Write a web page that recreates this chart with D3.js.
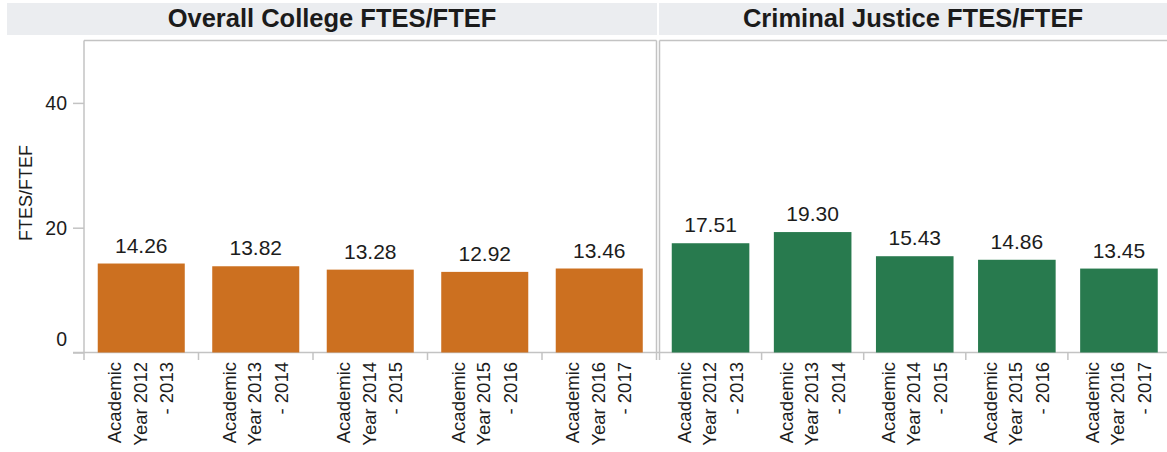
<!DOCTYPE html>
<html>
<head>
<meta charset="utf-8">
<script src="https://cdn.jsdelivr.net/npm/d3@7"></script>
<style>
  html, body { margin: 0; padding: 0; background: #fff; }
  svg { display: block; font-family: "Liberation Sans", Arial, sans-serif; }
</style>
</head>
<body>
<svg id="chart" width="1167" height="452"></svg>
<script>
// ---- data ----
const categories = [
  "Academic Year 2012 - 2013",
  "Academic Year 2013 - 2014",
  "Academic Year 2014 - 2015",
  "Academic Year 2015 - 2016",
  "Academic Year 2016 - 2017"
];
const categoryLines = [
  ["Academic", "Year 2012", "- 2013"],
  ["Academic", "Year 2013", "- 2014"],
  ["Academic", "Year 2014", "- 2015"],
  ["Academic", "Year 2015", "- 2016"],
  ["Academic", "Year 2016", "- 2017"]
];
const overallValues = [14.26, 13.82, 13.28, 12.92, 13.46];
const criminalJusticeValues = [17.51, 19.30, 15.43, 14.86, 13.45];
const panelTitles = ["Overall College FTES/FTEF", "Criminal Justice FTES/FTEF"];
const yTickValues = [0, 20, 40];
const yAxisTitle = "FTES/FTEF";

// ---- layout ----
const svg = d3.select("#chart");
const plotTop = 40.5, plotBottom = 352.5;
const gridColor = "#c3c3c3";
const textColor = "#1c1c1c";

const panels = [
  { title: panelTitles[0], values: overallValues, color: "#cc7020", x0: 84, x1: 656.5, hx0: 7, hx1: 657 },
  { title: panelTitles[1], values: criminalJusticeValues, color: "#287a4e", x0: 659.5, x1: 1170, hx0: 659, hx1: 1167 }
];

const y = d3.scaleLinear().domain([0, 50]).range([plotBottom, plotTop]);
const pad = 0.24;

// headers
panels.forEach(p => {
  svg.append("rect")
    .attr("x", p.hx0).attr("y", 3)
    .attr("width", p.hx1 - p.hx0).attr("height", 32)
    .attr("fill", "#ebedf0");
  svg.append("text")
    .attr("x", (p.hx0 + p.hx1) / 2).attr("y", 27)
    .attr("text-anchor", "middle")
    .attr("font-size", 25.5).attr("font-weight", "bold")
    .attr("fill", "#1b1b1b")
    .text(p.title);
});

// x baseline
svg.append("line")
  .attr("x1", 73).attr("x2", 1167)
  .attr("y1", plotBottom).attr("y2", plotBottom)
  .attr("stroke", gridColor).attr("stroke-width", 1.5);

// y axis (left of first panel)
const yAxis = d3.axisLeft(y).tickValues(yTickValues).tickSize(11).tickPadding(6).tickFormat(d3.format("d"));
const yg = svg.append("g").attr("transform", "translate(84,0)").call(yAxis);
yg.select(".domain").remove();
yg.selectAll(".tick line").attr("stroke", gridColor).attr("stroke-width", 1.5);
yg.selectAll(".tick text")
  .attr("font-size", 19.5).attr("fill", textColor)
  .attr("font-family", "Liberation Sans, Arial, sans-serif")
  .attr("dy", d => d === 0 ? "-0.35em" : "0.35em");

svg.append("text")
  .attr("transform", "translate(32,193) rotate(-90)")
  .attr("text-anchor", "middle")
  .attr("font-size", 18).attr("fill", textColor)
  .text(yAxisTitle);

panels.forEach(p => {
  const x = d3.scaleBand().domain(categories).range([p.x0, p.x1])
    .paddingInner(pad).paddingOuter(pad / 2);
  const step = x.step();
  const g = svg.append("g");

  // panel border: top, left, right
  g.append("line").attr("x1", p.x0).attr("x2", p.x1).attr("y1", plotTop).attr("y2", plotTop)
    .attr("stroke", gridColor).attr("stroke-width", 1.5);
  g.append("line").attr("x1", p.x0).attr("x2", p.x0).attr("y1", plotTop).attr("y2", 360)
    .attr("stroke", gridColor).attr("stroke-width", 1.5);
  if (p.x1 < 1167) {
    g.append("line").attr("x1", p.x1).attr("x2", p.x1).attr("y1", plotTop).attr("y2", 360)
      .attr("stroke", gridColor).attr("stroke-width", 1.5);
  }

  // category separator ticks
  categories.slice(1).forEach(c => {
    const bx = x(c) - step * pad / 2;
    g.append("line").attr("x1", bx).attr("x2", bx).attr("y1", plotBottom).attr("y2", 360)
      .attr("stroke", gridColor).attr("stroke-width", 1.5);
  });

  // bars
  g.selectAll("rect.bar").data(p.values).join("rect")
    .attr("class", "bar")
    .attr("x", (d, i) => x(categories[i]))
    .attr("width", x.bandwidth())
    .attr("y", d => y(d))
    .attr("height", d => y(0) - y(d))
    .attr("fill", p.color);

  // value labels
  g.selectAll("text.val").data(p.values).join("text")
    .attr("class", "val")
    .attr("x", (d, i) => x(categories[i]) + x.bandwidth() / 2)
    .attr("y", d => y(d) - 11)
    .attr("text-anchor", "middle")
    .attr("font-size", 21).attr("fill", textColor)
    .text(d => d.toFixed(2));

  // category labels (rotated, 3 lines)
  const offsets = [-20, 5.5, 32];
  categories.forEach((c, i) => {
    const cx = x(c) + x.bandwidth() / 2;
    categoryLines[i].forEach((line, j) => {
      g.append("text")
        .attr("transform", `translate(${cx + offsets[j]},362) rotate(-90)`)
        .attr("text-anchor", "end")
        .attr("font-size", 18.5).attr("fill", textColor)
        .text(line);
    });
  });
});
</script>
</body>
</html>
